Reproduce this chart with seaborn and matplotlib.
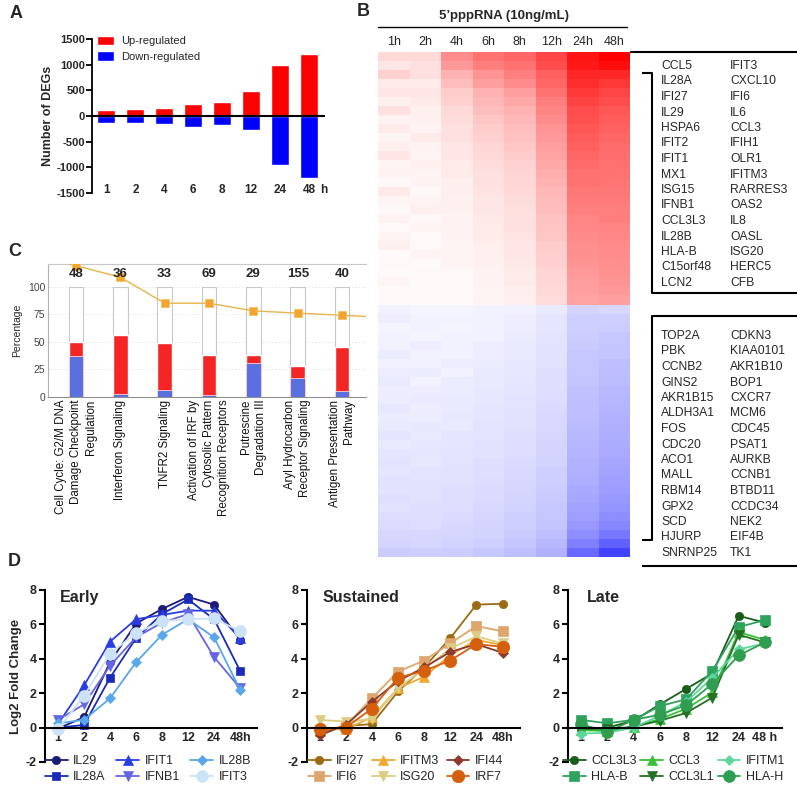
import numpy as np
import pandas as pd
import matplotlib
matplotlib.use('Agg')
import matplotlib.pyplot as plt
import seaborn as sns
from matplotlib.colors import LinearSegmentedColormap
from matplotlib.patches import Patch

sns.set_theme(style='white')
plt.rcParams['font.family'] = ['Liberation Sans', 'DejaVu Sans']
plt.rcParams['axes.unicode_minus'] = False

# ---------------- data ----------------
# Panel A
deg_hours = ['1', '2', '4', '6', '8', '12', '24', '48']
deg_up = [110, 130, 155, 232, 271, 492, 1000, 1215]
deg_down = [-135, -128, -155, -205, -180, -277, -955, -1207]

# Panel B heatmap
hm_cols = ['1h', '2h', '4h', '6h', '8h', '12h', '24h', '48h']
hm_up = [
    [.15, .15, .45, .55, .60, .72, .92, 1.0],
    [.10, .12, .40, .50, .55, .70, .90, .95],
    [.18, .12, .30, .42, .50, .62, .85, .85],
    [.08, .08, .25, .38, .45, .60, .82, .78],
    [.10, .10, .20, .30, .38, .55, .78, .72],
    [.06, .08, .18, .28, .34, .50, .74, .70],
    [.12, .06, .15, .25, .30, .48, .70, .66],
    [.05, .06, .14, .22, .28, .45, .68, .64],
    [.08, .05, .12, .20, .25, .42, .66, .62],
    [.04, .08, .12, .18, .24, .40, .64, .60],
    [.06, .05, .10, .16, .22, .38, .62, .58],
    [.10, .04, .10, .15, .20, .36, .60, .57],
    [.04, .06, .08, .14, .18, .34, .58, .56],
    [.05, .04, .08, .12, .17, .32, .56, .55],
    [.03, .05, .07, .12, .16, .30, .55, .54],
    [.08, .03, .07, .11, .15, .28, .53, .53],
    [.04, .04, .06, .10, .14, .27, .52, .52],
    [.03, .06, .06, .10, .13, .26, .50, .50],
    [.05, .03, .05, .09, .12, .24, .48, .50],
    [.02, .04, .05, .08, .12, .23, .47, .48],
    [.04, .02, .05, .08, .11, .22, .46, .47],
    [.06, .03, .04, .07, .10, .20, .44, .46],
    [.02, .04, .04, .06, .10, .19, .43, .45],
    [.03, .02, .04, .06, .09, .18, .42, .44],
    [.02, .03, .03, .05, .08, .17, .40, .43],
    [.04, .02, .03, .05, .08, .16, .39, .42],
    [.02, .02, .03, .04, .07, .15, .38, .40],
    [.02, .02, .02, .04, .06, .14, .36, .38],
]
hm_down = [
    [-.06, -.05, -.05, -.06, -.07, -.10, -.20, -.18],
    [-.08, -.06, -.06, -.06, -.08, -.12, -.22, -.22],
    [-.05, -.07, -.05, -.07, -.08, -.12, -.23, -.24],
    [-.07, -.05, -.07, -.07, -.09, -.13, -.24, -.26],
    [-.06, -.08, -.06, -.08, -.10, -.13, -.25, -.27],
    [-.09, -.06, -.07, -.08, -.10, -.14, -.26, -.28],
    [-.07, -.07, -.08, -.09, -.11, -.14, -.27, -.30],
    [-.08, -.09, -.07, -.10, -.11, -.15, -.27, -.31],
    [-.10, -.07, -.09, -.10, -.12, -.15, -.28, -.32],
    [-.08, -.08, -.09, -.11, -.12, -.16, -.29, -.33],
    [-.09, -.10, -.10, -.11, -.13, -.16, -.30, -.34],
    [-.11, -.08, -.10, -.12, -.13, -.17, -.30, -.35],
    [-.09, -.09, -.11, -.12, -.14, -.18, -.31, -.36],
    [-.10, -.11, -.10, -.13, -.14, -.18, -.32, -.37],
    [-.12, -.10, -.12, -.13, -.15, -.19, -.33, -.38],
    [-.10, -.11, -.12, -.14, -.16, -.20, -.34, -.39],
    [-.12, -.12, -.13, -.14, -.16, -.20, -.35, -.40],
    [-.13, -.11, -.13, -.15, -.17, -.21, -.36, -.42],
    [-.12, -.13, -.14, -.15, -.18, -.22, -.37, -.43],
    [-.14, -.13, -.14, -.16, -.18, -.23, -.38, -.45],
    [-.13, -.14, -.15, -.17, -.19, -.24, -.40, -.46],
    [-.15, -.14, -.15, -.17, -.20, -.25, -.41, -.48],
    [-.14, -.15, -.16, -.18, -.21, -.26, -.43, -.50],
    [-.16, -.15, -.17, -.19, -.22, -.27, -.45, -.53],
    [-.17, -.16, -.18, -.20, -.23, -.28, -.48, -.57],
    [-.18, -.18, -.19, -.21, -.25, -.30, -.53, -.64],
    [-.20, -.19, -.21, -.23, -.27, -.33, -.60, -.74],
    [-.24, -.22, -.24, -.26, -.30, -.36, -.70, -.88],
]
up_genes_col1 = ['CCL5', 'IL28A', 'IFI27', 'IL29', 'HSPA6', 'IFIT2', 'IFIT1', 'MX1',
                 'ISG15', 'IFNB1', 'CCL3L3', 'IL28B', 'HLA-B', 'C15orf48', 'LCN2']
up_genes_col2 = ['IFIT3', 'CXCL10', 'IFI6', 'IL6', 'CCL3', 'IFIH1', 'OLR1', 'IFITM3',
                 'RARRES3', 'OAS2', 'IL8', 'OASL', 'ISG20', 'HERC5', 'CFB']
down_genes_col1 = ['TOP2A', 'PBK', 'CCNB2', 'GINS2', 'AKR1B15', 'ALDH3A1', 'FOS', 'CDC20',
                   'ACO1', 'MALL', 'RBM14', 'GPX2', 'SCD', 'HJURP', 'SNRNP25']
down_genes_col2 = ['CDKN3', 'KIAA0101', 'AKR1B10', 'BOP1', 'CXCR7', 'MCM6', 'CDC45', 'PSAT1',
                   'AURKB', 'CCNB1', 'BTBD11', 'CCDC34', 'NEK2', 'EIF4B', 'TK1']

# Panel C
path_names = ['Cell Cycle: G2/M DNA\nDamage Checkpoint\nRegulation',
              'Interferon Signaling',
              'TNFR2 Signaling',
              'Activation of IRF by\nCytosolic Pattern\nRecognition Receptors',
              'Putrescine\nDegradation III',
              'Aryl Hydrocarbon\nReceptor Signaling',
              'Antigen Presentation\nPathway']
path_down_pct = [37, 3, 6, 1.5, 31, 17, 5]
path_up_pct = [13, 53, 43, 36.5, 7, 11, 40]
path_total = [48, 36, 33, 69, 29, 155, 40]
path_logp = [119, 108.5, 85, 85, 78, 76, 74]

# Panel D
d_hours = ['1', '2', '4', '6', '8', '12', '24', '48h']
d_hours_late = ['1', '2', '4', '6', '8', '12', '24', '48 h']

early_genes = ['IL29', 'IL28A', 'IFIT1', 'IFNB1', 'IL28B', 'IFIT3']
early_IL29 = [-0.05, 0.6, 3.8, 6.05, 6.9, 7.6, 7.15, 5.1]
early_IL28A = [0.0, 0.15, 2.9, 5.2, 6.6, 7.45, 6.3, 3.3]
early_IFIT1 = [0.2, 2.45, 5.0, 6.3, 6.55, 6.8, 6.8, 5.2]
early_IFNB1 = [0.45, 1.35, 3.6, 5.25, 6.1, 6.6, 4.1, 2.3]
early_IL28B = [0.25, 0.45, 1.7, 3.8, 5.4, 6.3, 5.25, 2.2]
early_IFIT3 = [-0.1, 1.85, 4.3, 5.5, 6.2, 6.3, 6.35, 5.6]

sust_genes = ['IFI27', 'IFI6', 'IFITM3', 'ISG20', 'IFI44', 'IRF7']
sust_IFI27 = [-0.3, 0.1, 0.2, 2.1, 3.5, 5.2, 7.15, 7.2]
sust_IFI6 = [-0.2, 0.1, 1.7, 3.25, 3.9, 4.9, 5.9, 5.6]
sust_IFITM3 = [0.0, -0.1, 0.6, 2.3, 2.95, 4.2, 5.1, 4.8]
sust_ISG20 = [0.45, 0.35, 0.5, 2.3, 3.4, 4.6, 5.3, 4.9]
sust_IFI44 = [-0.45, 0.15, 1.5, 2.7, 3.5, 4.4, 4.85, 4.35]
sust_IRF7 = [-0.1, 0.0, 1.1, 2.9, 3.3, 3.9, 4.85, 4.7]

late_genes = ['CCL3L3', 'HLA-B', 'CCL3', 'CCL3L1', 'IFITM1', 'HLA-H']
late_CCL3L3 = [-0.1, 0.0, 0.4, 1.35, 2.25, 3.15, 6.5, 6.1]
late_HLAB = [0.45, 0.25, 0.45, 1.25, 1.65, 3.3, 5.85, 6.25]
late_CCL3 = [-0.15, -0.2, 0.05, 0.5, 1.1, 2.05, 5.55, 5.1]
late_CCL3L1 = [-0.05, -0.1, 0.05, 0.4, 0.85, 1.75, 5.4, 4.95]
late_IFITM1 = [-0.35, -0.3, 0.0, 0.7, 1.5, 2.9, 4.55, 4.9]
late_HLAH = [0.2, -0.25, 0.45, 0.75, 1.3, 2.55, 4.2, 4.95]

# ---------------- figure ----------------
W, H = 797, 798
fig = plt.figure(figsize=(W / 100, H / 100), dpi=100)


def px_axes(x, y, w, h):
    return fig.add_axes([x / W, 1 - (y + h) / H, w / W, h / H])


def fx(x):
    return x / W


def fy(y):
    return 1 - y / H


# ---------------- Panel A ----------------
axA = px_axes(92, 39, 233, 154)
sns.barplot(x=deg_hours, y=deg_up, color='#ff0000', saturation=1, width=0.62, ax=axA)
sns.barplot(x=deg_hours, y=deg_down, color='#0000ff', saturation=1, width=0.62, ax=axA)
axA.set_xlim(-0.5, 7.55)
axA.set_ylim(-1500, 1500)
axA.axhline(0, color='black', lw=1.5, zorder=5)
for s in ['top', 'right', 'bottom']:
    axA.spines[s].set_visible(False)
axA.spines['left'].set_color('black')
axA.spines['left'].set_linewidth(1.3)
axA.set_xticks([])
axA.set_yticks([-1500, -1000, -500, 0, 500, 1000, 1500])
axA.set_yticklabels(['-1500', '-1000', '-500', '0', '500', '1000', '1500'],
                    fontweight='bold', fontsize=8)
axA.tick_params(axis='y', direction='out', length=4, width=1.3, color='black', pad=1, left=True)
axA.set_ylabel('Number of DEGs', fontweight='bold', fontsize=9, labelpad=2)
axA.set_xlabel('')
for i, lab in enumerate(deg_hours):
    axA.text(i, -1440, lab, ha='center', va='center', fontweight='bold', fontsize=8.5)
axA.text(7.5, -1440, 'h', ha='center', va='center', fontweight='bold', fontsize=8.5)
axA.legend(handles=[Patch(facecolor='#ff0000', label='Up-regulated'),
                    Patch(facecolor='#0000ff', label='Down-regulated')],
           loc='upper left', bbox_to_anchor=(0.02, 1.02), frameon=False, fontsize=8,
           handlelength=1.6, handleheight=0.9, handletextpad=0.6, labelspacing=0.45,
           borderpad=0, borderaxespad=0)

# ---------------- Panel B ----------------
axB = px_axes(378, 52, 252, 505)
cmap = LinearSegmentedColormap.from_list('bwr2', ['#2a2aff', '#ffffff', '#ff0000'])
hm_data = pd.DataFrame(hm_up + hm_down, columns=hm_cols)
sns.heatmap(hm_data, cmap=cmap, vmin=-1, vmax=1, cbar=False, ax=axB,
            xticklabels=hm_cols, yticklabels=False)
axB.xaxis.tick_top()
axB.tick_params(axis='x', length=0, labelsize=9, pad=3, rotation=0)

# ---------------- Panel C ----------------
axC = px_axes(48, 264, 318, 133)
idx = list(range(len(path_names)))
path_box = [100] * len(path_names)
path_cum = [d + u for d, u in zip(path_down_pct, path_up_pct)]
sns.barplot(x=idx, y=path_box, color='white', saturation=1, edgecolor='#c8c8c8',
            linewidth=0.8, width=0.33, ax=axC)
sns.barplot(x=idx, y=path_cum, color='#f52525', saturation=1, width=0.33, ax=axC)
sns.barplot(x=idx, y=path_down_pct, color='#5b70e0', saturation=1, edgecolor='#ffd0d0',
            linewidth=0.6, width=0.33, ax=axC)
# extension of the trend line beyond the first and last pathway
xl, xr = -0.7, 6.6
yl = path_logp[0] + (path_logp[0] - path_logp[1]) * (0 - xl)
yr = path_logp[-1] + (path_logp[-1] - path_logp[-2]) * (xr - 6)
axC.plot([xl, 0], [yl, path_logp[0]], color='#e6b54a', lw=1.0, zorder=4)
axC.plot([6, xr], [path_logp[-1], yr], color='#e6b54a', lw=1.0, zorder=4)
sns.lineplot(x=idx, y=path_logp, ax=axC, color='#e6b54a', lw=1.0, marker='s',
             markersize=6, markerfacecolor='#f0a530', markeredgecolor='#f5c060',
             markeredgewidth=0.6, zorder=5)
for i, n in enumerate(path_total):
    axC.text(i, 111.5, str(n), ha='center', va='center', fontweight='bold', fontsize=9.5, zorder=6)
axC.set_xlim(-0.63, 6.54)
axC.set_ylim(0, 120.5)
axC.set_yticks([0, 25, 50, 75, 100])
axC.set_yticklabels(['0', '25', '50', '75', '100'], fontsize=7.5, color='#444444')
axC.set_xticks(idx)
axC.set_xticklabels(path_names, rotation=90, ha='center', va='top', fontsize=8.3,
                    multialignment='right', linespacing=1.3, color='#111111')
axC.tick_params(axis='both', length=0, pad=2)
axC.set_ylabel('Percentage', fontsize=7.5, labelpad=4)
axC.yaxis.grid(True, linestyle=(0, (2, 2)), color='#e4e4e4', lw=0.6)
axC.set_axisbelow(True)
axC.spines['right'].set_visible(False)
axC.spines['top'].set_color('#c8c8c8')
axC.spines['left'].set_color('#b0b0b0')
axC.spines['bottom'].set_color('#909090')
for s in ['top', 'left', 'bottom']:
    axC.spines[s].set_linewidth(0.8)

# ---------------- Panel D ----------------
def draw_d(ax, genes, series, colors, markers, msizes, title, tlabels, title_x,
           leg_px, colsp, ylabel=None):
    for g, vals, c, m, ms in zip(genes, series, colors, markers, msizes):
        sns.lineplot(x=list(range(len(vals))), y=vals, ax=ax, color=c, marker=m,
                     markersize=ms, markeredgecolor=c, markeredgewidth=0.5,
                     linewidth=1.3, label=g)
    ax.set_xlim(-0.5, 7.65)
    ax.set_ylim(-2, 8)
    ax.spines['top'].set_visible(False)
    ax.spines['right'].set_visible(False)
    ax.spines['bottom'].set_position(('data', 0))
    for s in ['left', 'bottom']:
        ax.spines[s].set_color('black')
        ax.spines[s].set_linewidth(1.5)
    ax.set_xticks(range(len(tlabels)))
    ax.set_xticklabels(tlabels, fontweight='bold', fontsize=9)
    ax.set_yticks([-2, 0, 2, 4, 6, 8])
    ax.set_yticklabels(['-2', '0', '2', '4', '6', '8'], fontweight='bold', fontsize=9)
    ax.tick_params(axis='x', length=0, pad=3.5)
    ax.tick_params(axis='y', direction='out', length=4.5, width=1.5, color='black',
                   pad=1.5, left=True)
    ax.set_xlabel('')
    if ylabel:
        ax.set_ylabel(ylabel, fontweight='bold', fontsize=9.5, labelpad=3)
    else:
        ax.set_ylabel('')
    ax.text(title_x, 0.955, title, transform=ax.transAxes, ha='left', va='center',
            fontweight='bold', fontsize=11.5)
    ax.legend(loc='upper left', bbox_to_anchor=(fx(leg_px[0]), fy(leg_px[1])),
              bbox_transform=fig.transFigure, ncol=3, frameon=False, fontsize=9,
              handlelength=1.8, handletextpad=0.45, columnspacing=colsp,
              labelspacing=0.35, borderpad=0, borderaxespad=0)


axD1 = px_axes(45, 590, 212, 172)
draw_d(axD1, early_genes,
       [early_IL29, early_IL28A, early_IFIT1, early_IFNB1, early_IL28B, early_IFIT3],
       ['#1b1b78', '#1a2cb8', '#2a3de0', '#6666e4', '#58a6ec', '#cce2f8'],
       ['o', 's', '^', 'v', 'D', 'o'], [6, 6, 6.5, 6.5, 4.8, 8.5],
       'Early', d_hours, 0.07, (45, 755), 0.85, ylabel='Log2 Fold Change')

axD2 = px_axes(306.5, 590, 213, 172)
draw_d(axD2, sust_genes,
       [sust_IFI27, sust_IFI6, sust_IFITM3, sust_ISG20, sust_IFI44, sust_IRF7],
       ['#9a6b12', '#dea66c', '#f0a830', '#dccd82', '#8b3a2b', '#d4600e'],
       ['o', 's', '^', 'v', 'D', 'o'], [6, 6.5, 6.5, 6.5, 4.8, 9],
       'Sustained', d_hours, 0.073, (308, 755), 0.6)

axD3 = px_axes(568, 590, 214, 172)
draw_d(axD3, late_genes,
       [late_CCL3L3, late_HLAB, late_CCL3, late_CCL3L1, late_IFITM1, late_HLAH],
       ['#1a5c1a', '#2ea35e', '#36c236', '#257025', '#5cd89a', '#2f9e50'],
       ['o', 's', '^', 'v', 'D', 'o'], [6, 6.5, 6.5, 6.5, 4.8, 8.5],
       'Late', d_hours_late, 0.089, (563, 755), 0.3)

# ---------------- overlay: labels, brackets, gene lists ----------------
axO = fig.add_axes([0, 0, 1, 1])
axO.set_xlim(0, W)
axO.set_ylim(H, 0)
axO.axis('off')
axO.patch.set_alpha(0)

for lab, (x, y) in zip(['A', 'B', 'C', 'D'], [(10, 13), (357, 12), (8, 252), (8, 562)]):
    axO.text(x, y, lab, fontsize=13, fontweight='bold', ha='left', va='center')

axO.text(504, 16, '5\u2019pppRNA (10ng/mL)', ha='center', va='center', fontsize=9.5,
         fontweight='bold')
axO.plot([378, 627], [27, 27], color='black', lw=1.0)

lk = dict(color='black', lw=1.5, solid_capstyle='butt')
axO.plot([630, 797], [52, 52], **lk)
axO.plot([642, 652, 652, 797], [73, 73, 293, 293], **lk)
axO.plot([797, 652, 652, 642], [316, 316, 540, 540], **lk)
axO.plot([642, 797], [566, 566], **lk)

for i, (g1, g2) in enumerate(zip(up_genes_col1, up_genes_col2)):
    y = 66 + i * 15.5
    axO.text(661, y, g1, fontsize=8.7, ha='left', va='center')
    axO.text(730, y, g2, fontsize=8.7, ha='left', va='center')
for i, (g1, g2) in enumerate(zip(down_genes_col1, down_genes_col2)):
    y = 336 + i * 15.5
    axO.text(661, y, g1, fontsize=8.7, ha='left', va='center')
    axO.text(730, y, g2, fontsize=8.7, ha='left', va='center')

fig.savefig('out.png', dpi=100)
